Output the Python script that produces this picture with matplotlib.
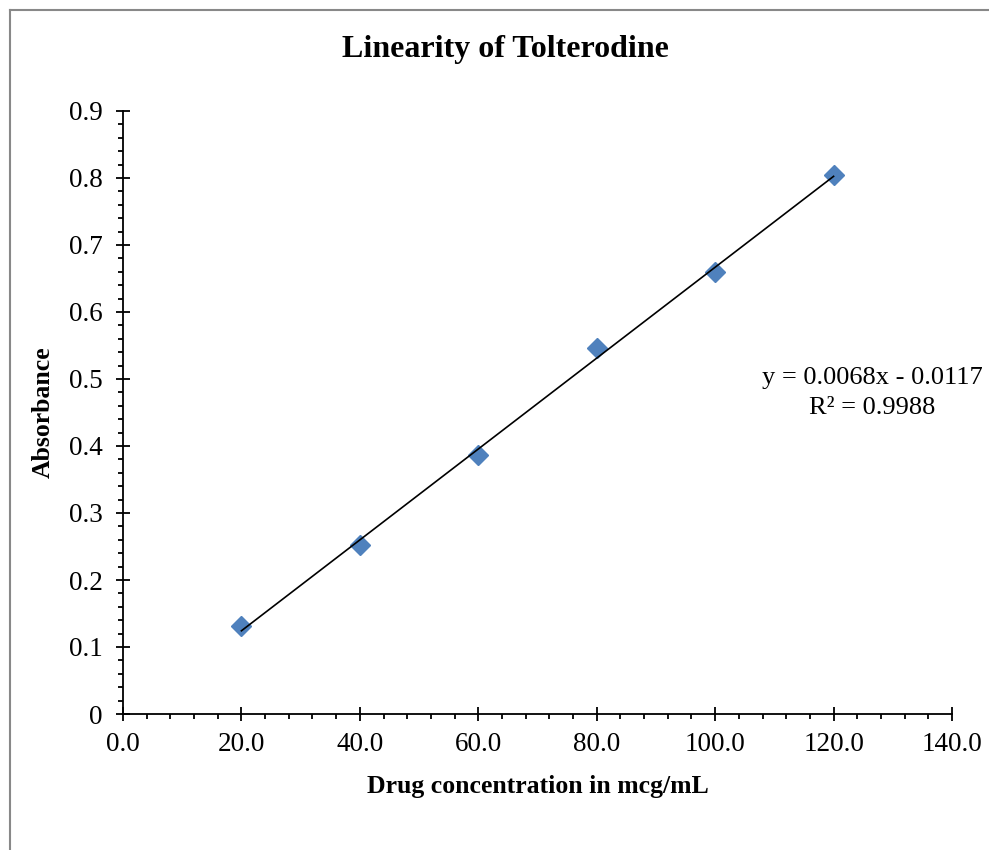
import matplotlib.pyplot as plt
import numpy as np
from matplotlib.ticker import MultipleLocator, FormatStrFormatter
from matplotlib.lines import Line2D

plt.rcParams['font.family'] = ['Liberation Serif', 'DejaVu Serif']

conc = np.array([20, 40, 60, 80, 100, 120])
absorb = np.array([0.131, 0.252, 0.387, 0.546, 0.660, 0.804])

slope, icpt = np.polyfit(conc, absorb, 1)
xfit = np.array([conc.min(), conc.max()])

fig = plt.figure(figsize=(9.89, 8.5), dpi=100)
ax = fig.add_axes([123/989, 136/850, (952-123)/989, (714-111)/850])

ax.plot(conc, absorb, linestyle="none", marker="D", markersize=10.5,
        color="#4F81BD", zorder=2)
ax.plot(xfit, slope*xfit + icpt, color="black", linewidth=1.2, zorder=3)

ax.set_xlim(0, 140)
ax.set_ylim(0, 0.9)
ax.xaxis.set_major_locator(MultipleLocator(20))
ax.xaxis.set_minor_locator(MultipleLocator(4))
ax.yaxis.set_major_locator(MultipleLocator(0.1))
ax.yaxis.set_minor_locator(MultipleLocator(0.02))
ax.xaxis.set_major_formatter(FormatStrFormatter("%.1f"))
ax.yaxis.set_major_formatter(lambda v, p: "0" if abs(v) < 1e-9 else "%g" % round(v, 1))

for s in ["top", "right"]:
    ax.spines[s].set_visible(False)
for s in ["left", "bottom"]:
    ax.spines[s].set_linewidth(1.3)

ax.tick_params(which="major", direction="inout", length=10, width=1.3,
               labelsize=19.5, pad=8)
ax.tick_params(axis="y", which="major", pad=9.5)
ax.tick_params(which="minor", direction="out", length=3.6, width=1.3)

ax.set_xlabel("Drug concentration in mcg/mL", fontsize=18.5, fontweight="bold", labelpad=13)
ax.set_ylabel("Absorbance", fontsize=18.5, fontweight="bold", labelpad=10)
fig.text(505/989, 1 - 50/850, "Linearity of Tolterodine", fontsize=23,
         fontweight="bold", ha="center", va="center")

fig.text(872/989, 1 - 378/850, "y = 0.0068x - 0.0117", fontsize=19,
         ha="center", va="center")
fig.text(872/989, 1 - 408/850, "R² = 0.9988", fontsize=19,
         ha="center", va="center")

# chart area border
fig.add_artist(Line2D([10/989, 10/989], [0, 1 - 10/850], transform=fig.transFigure,
                      color="#888888", linewidth=1.5))
fig.add_artist(Line2D([10/989, 1], [1 - 10/850, 1 - 10/850], transform=fig.transFigure,
                      color="#888888", linewidth=1.5))

fig.savefig("out.png", dpi=100)
